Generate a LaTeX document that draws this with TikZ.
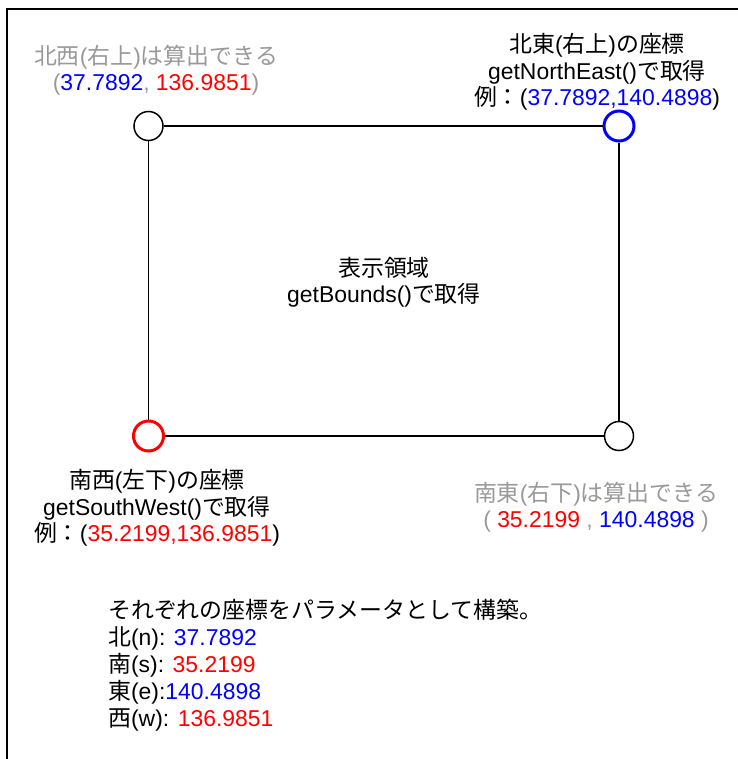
\documentclass[tikz,border=0pt]{standalone}
\usepackage{fontspec}
\setmainfont{Liberation Sans}
\newfontfamily\jpfont{Noto Sans CJK JP}
\newcommand{\J}[1]{{\jpfont #1}}
\definecolor{lgray}{HTML}{999999}
\definecolor{cblue}{HTML}{0000FF}
\definecolor{cred}{HTML}{FF0000}
\begin{document}
\begin{tikzpicture}[x=1bp,y=-1bp,
  lbl/.style={align=center, font=\fontsize{23}{26.5}\selectfont, inner sep=0pt},
  lblleft/.style={align=left, font=\fontsize{23}{27}\selectfont, inner sep=0pt},
  pt/.style={circle, draw=black, line width=1.5bp, fill=white, minimum size=29bp, inner sep=0pt},
  ptc/.style={circle, line width=3bp, fill=white, minimum size=30bp, inner sep=0pt},
  edge/.style={line width=1.5bp}]
\useasboundingbox (0,0) rectangle (738,759);
\draw[line width=2bp] (7,759) -- (7,9) -- (738,9);

\node[pt] (nw) at (148.5,126) {};
\node[ptc, draw=cblue] (ne) at (619,126) {};
\node[ptc, draw=cred] (sw) at (148.5,436) {};
\node[pt] (se) at (619,436) {};
\draw[edge] (nw) -- (ne);
\draw[edge] (ne) -- (se);
\draw[edge] (se) -- (sw);
\draw[edge] (sw) -- (nw);

\node[lbl, text=lgray] (nwl) at (156,70) {\J{北西}(\J{右上})\J{は算出できる}\\(\textcolor{cblue}{37.7892}, \textcolor{cred}{136.9851})};
\node[lbl] (nel) at (597,72) {\J{北東}(\J{右上})\J{の座標}\\getNorthEast()\J{で取得}\\\J{例：}(\textcolor{cblue}{37.7892,140.4898})};
\node[lbl] (cl) at (384,282) {\J{表示領域}\\getBounds()\J{で取得}};
\node[lbl] (swl) at (157,508) {\J{南西}(\J{左下})\J{の座標}\\getSouthWest()\J{で取得}\\\J{例：}(\textcolor{cred}{35.2199,136.9851})};
\node[lbl, text=lgray] (sel) at (596,507) {\J{南東}(\J{右下})\J{は算出できる}\\( \textcolor{cred}{35.2199} , \textcolor{cblue}{140.4898} )};
\node[lblleft, anchor=north west] (params) at (108,599) {\J{それぞれの座標をパラメータとして構築。}\\\J{北}(n): \textcolor{cblue}{37.7892}\\\J{南}(s): \textcolor{cred}{35.2199}\\\J{東}(e):\textcolor{cblue}{140.4898}\\\J{西}(w): \textcolor{cred}{136.9851}};
\end{tikzpicture}
\end{document}
